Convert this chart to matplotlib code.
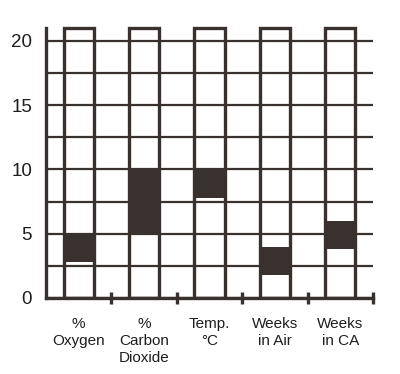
import matplotlib
matplotlib.use("Agg")
import matplotlib.pyplot as plt

categories = ["%\nOxygen", "%\nCarbon\nDioxide", "Temp.\n°C", "Weeks\nin Air", "Weeks\nin CA"]
range_low = [2.8, 5.0, 7.8, 1.8, 3.8]
range_high = [5.0, 10.0, 10.0, 4.0, 6.0]
column_top = 21
yticks = [0, 5, 10, 15, 20]
grid_minor = [2.5, 7.5, 12.5, 17.5]

plt.rcParams['font.family'] = ['Liberation Sans', 'DejaVu Sans']
ink = '#38312d'

fig = plt.figure(figsize=(4.0, 3.74), dpi=100)
ax = fig.add_axes([0.115, 1 - 298/374, (373 - 46)/400, 274/374])

x = [i + 0.5 for i in range(len(categories))]
w = 0.46
heights = [h - l for l, h in zip(range_low, range_high)]

ax.set_xlim(0, len(categories))
ax.set_ylim(0, 274/12.85)

ax.set_yticks(yticks)
ax.set_yticks(grid_minor, minor=True)
ax.grid(True, which='both', axis='y', color=ink, linewidth=1.6, zorder=1)
ax.set_axisbelow(True)

ax.bar(x, heights, bottom=range_low, width=w, color=ink, edgecolor='none', zorder=2)
ax.bar(x, [column_top] * len(x), width=w, facecolor='none', edgecolor=ink,
       linewidth=2.4, zorder=3)

for s in ['top', 'right']:
    ax.spines[s].set_visible(False)
for s in ['left', 'bottom']:
    ax.spines[s].set_color(ink)
    ax.spines[s].set_linewidth(2.4)
    ax.spines[s].set_zorder(4)
ax.spines['left'].set_bounds(0, column_top)

ax.tick_params(axis='y', which='both', length=0, pad=10, labelsize=13.5, labelcolor='#1e1e1e')

ax.set_xticks(range(1, len(categories) + 1))
ax.set_xticks(x, minor=True)
ax.set_xticklabels([], minor=False)
ax.set_xticklabels(categories, minor=True)
ax.tick_params(axis='x', which='major', direction='inout', length=9, width=2.4, color=ink)
ax.tick_params(axis='x', which='minor', length=0, pad=14, labelsize=11, labelcolor='#1e1e1e')
for lab in ax.get_xticklabels(minor=True):
    lab.set_linespacing(1.25)

fig.savefig("out.png", dpi=100, facecolor='white')
